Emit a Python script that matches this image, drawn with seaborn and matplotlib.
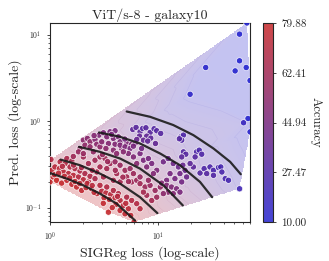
import numpy as np
import pandas as pd
import seaborn as sns
import matplotlib
matplotlib.use("Agg")
import matplotlib.pyplot as plt
import matplotlib.tri as mtri
from matplotlib.colors import LinearSegmentedColormap, Normalize
from matplotlib.cm import ScalarMappable

# ---- data ----
sigreg_loss = [
    # lower-left red cluster
    1.00, 1.07, 1.15, 1.28, 1.43, 1.59, 1.76, 1.96, 2.15, 1.04, 1.11, 1.22, 1.33, 1.48,
    1.64, 1.83, 2.03, 2.26, 1.24, 1.38, 1.53, 1.70, 1.89, 2.10, 2.34, 2.60, 1.43, 1.59, 1.02,
    # red, bottom
    2.70, 3.00, 3.28, 3.63, 3.15, 3.53, 3.98, 4.43, 4.06, 4.75, 5.28, 4.43, 3.46, 5.56,
    5.96, 4.92, 2.42, 2.89, 3.34, 3.84, 4.27, 5.10, 5.67, 6.31, 6.77,
    # magenta
    2.60, 2.89, 3.22, 3.58, 3.98, 4.43, 4.92, 5.48, 5.88, 5.10, 4.12, 3.34, 2.89, 2.70,
    3.11, 3.84, 4.43, 5.67, 6.31, 6.77, 2.26, 2.03,
    6.77, 7.53, 8.38, 9.32, 7.80, 8.68, 9.65, 10.4, 7.27, 8.08,
    # purple, upper left
    2.03, 2.21, 2.34, 2.60, 2.10, 1.89, 2.34, 2.70, 2.89, 1.83, 2.03, 2.51, 1.64,
    2.83, 3.11, 3.58, 3.98, 3.34, 3.84, 4.27, 3.00, 3.46, 3.98, 4.43, 3.28, 3.84, 4.58,
    5.10, 5.67, 6.09,
    # blue-purple
    5.80, 6.22, 6.77, 7.16, 7.67, 8.38, 9.12, 9.65, 10.5, 7.80, 8.50, 9.39, 6.69, 7.27,
    6.31, 7.97,
    4.43, 4.92, 5.48, 5.88, 5.28, 5.88, 6.77, 7.27, 8.08, 8.68, 9.65, 8.99, 7.80, 6.31,
    4.75, 4.12, 7.00,
    11.1, 12.3, 13.7, 15.3, 16.8, 17.6, 15.8, 14.2, 16.4, 18.2, 12.8, 11.9,
    10.7, 11.9, 13.2, 14.7, 12.3, 13.7, 15.8, 11.1,
    16.1, 17.0, 16.4, 15.6, 17.0, 17.9, 16.4, 22.5, 23.8, 25.1, 21.8,
    24.2, 26.4, 29.9, 32.2, 35.8, 37.6, 38.5, 32.2, 41.3, 44.3, 27.9, 21.0, 19.6,
    # blue outliers
    65.4, 56.0, 56.0, 27.3, 51.0, 64.5, 70.0, 19.6, 67.0, 61.0, 70.0, 56.0,
    # extra points in the dense part
    1.10, 1.20, 1.36, 1.52, 1.70, 1.88, 2.20, 2.45, 1.30, 1.65, 1.95, 2.45,
    3.10, 3.75, 4.20, 5.00, 2.55, 3.40, 4.00, 4.70, 5.30, 3.05, 3.70, 4.90, 2.55,
]
pred_loss = [
    0.198, 0.226, 0.207, 0.192, 0.207, 0.186, 0.173, 0.158, 0.170, 0.270, 0.295, 0.282,
    0.258, 0.247, 0.236, 0.226, 0.210, 0.198, 0.338, 0.323, 0.295, 0.282, 0.265, 0.247,
    0.230, 0.216, 0.369, 0.347, 0.360,
    0.145, 0.155, 0.148, 0.142, 0.130, 0.124, 0.130, 0.121, 0.109, 0.106, 0.097, 0.0927,
    0.0886, 0.0811, 0.068, 0.0848, 0.165, 0.181, 0.173, 0.158, 0.145, 0.132, 0.121, 0.111,
    0.097,
    0.353, 0.385, 0.369, 0.323, 0.338, 0.309, 0.270, 0.282, 0.247, 0.226, 0.247, 0.282,
    0.295, 0.258, 0.226, 0.207, 0.198, 0.198, 0.207, 0.226, 0.323, 0.385,
    0.189, 0.173, 0.181, 0.158, 0.139, 0.121, 0.132, 0.173, 0.151, 0.207,
    0.602, 0.630, 0.576, 0.613, 0.527, 0.482, 0.504, 0.540, 0.504, 0.441, 0.421, 0.441, 0.390,
    0.688, 0.732, 0.752, 0.773, 0.658, 0.630, 0.658, 0.576, 0.550, 0.540, 0.576, 0.482,
    0.461, 0.482, 0.550, 0.540, 0.550,
    0.800, 0.844, 0.752, 0.822, 0.837, 0.739, 0.815, 0.773, 0.720, 0.670, 0.635, 0.550,
    0.670, 0.602, 0.613, 0.587,
    0.527, 0.504, 0.482, 0.513, 0.421, 0.385, 0.421, 0.353, 0.369, 0.323, 0.270, 0.247,
    0.295, 0.323, 0.441, 0.421, 0.482,
    0.338, 0.369, 0.323, 0.295, 0.309, 0.270, 0.247, 0.216, 0.198, 0.226, 0.247, 0.207,
    0.192, 0.181, 0.173, 0.165, 0.151, 0.145, 0.151, 0.145,
    0.658, 0.688, 0.602, 0.624, 0.441, 0.414, 0.385, 0.441, 0.461, 0.414, 0.385,
    0.251, 0.282, 0.295, 0.270, 0.291, 0.295, 0.258, 0.236, 0.216, 0.207, 0.247, 0.295, 0.323,
    13.6, 10.1, 4.97, 4.16, 3.80, 4.16, 2.94, 2.04, 1.07, 0.956, 0.75, 0.165,
    0.240, 0.250, 0.230, 0.220, 0.200, 0.190, 0.190, 0.180, 0.300, 0.310, 0.290, 0.270,
    0.112, 0.100, 0.135, 0.112, 0.150, 0.340, 0.270, 0.225, 0.200, 0.410, 0.700, 0.620, 0.680,
]
accuracy = [
    78, 77, 79.88, 78, 77, 76, 77, 76, 75, 74, 72, 73, 73, 72, 73, 71, 72, 71, 70, 69, 69,
    68, 68, 67, 68, 66, 66, 65, 70,
    75, 72, 73, 72, 76, 75, 73, 72, 75, 73, 74, 76, 78, 75, 77, 76, 74, 71, 70, 69, 69, 68,
    70, 70, 71,
    62, 60, 61, 62, 58, 59, 61, 58, 60, 63, 64, 64, 65, 66, 66, 65, 64, 62, 60, 58, 64, 62,
    62, 60, 58, 59, 63, 64, 60, 56, 64, 57,
    53, 52, 54, 50, 55, 57, 55, 53, 54, 58, 58, 56, 61,
    48, 47, 46, 45, 49, 48, 46, 51, 50, 49, 47, 53, 52, 50, 48, 47, 46,
    34, 32, 33, 30, 31, 32, 29, 30, 31, 35, 34, 36, 36, 37, 38, 35,
    48, 47, 46, 45, 49, 48, 45, 46, 44, 45, 47, 49, 48, 51, 51, 53, 43,
    42, 40, 41, 40, 38, 39, 42, 44, 43, 40, 44, 46,
    50, 49, 48, 47, 51, 50, 46, 53,
    28, 27, 29, 30, 30, 31, 33, 27, 26, 28, 30,
    30, 28, 27, 26, 25, 24, 26, 29, 25, 24, 31, 33, 34,
    10.00, 11, 10.5, 12, 11, 10.2, 10.8, 14, 11, 18, 12, 22,
    75, 74, 75, 74, 75, 74, 73, 72, 70, 67, 66, 66,
    77, 76, 71, 73, 75, 60, 62, 63, 61, 58, 46, 44, 50,
]

# iso-accuracy curves (black)
curve1_x = [1.00, 1.43, 2.03, 2.89, 4.12, 6.09]
curve1_y = [0.251, 0.216, 0.181, 0.145, 0.111, 0.071]
curve2_x = [1.25, 1.89, 2.89, 4.43, 6.77, 9.79]
curve2_y = [0.359, 0.309, 0.247, 0.189, 0.132, 0.0863]
curve3_x = [1.85, 2.89, 4.43, 6.77, 11.1, 16.8]
curve3_y = [0.504, 0.441, 0.369, 0.282, 0.181, 0.106]
curve4_x = [2.83, 4.43, 6.77, 10.4, 15.8, 24.2, 31.3]
curve4_y = [0.739, 0.658, 0.55, 0.421, 0.309, 0.198, 0.132]
curve5_x = [5.10, 8.38, 13.7, 21.0, 32.2, 45.9, 57.5]
curve5_y = [1.29, 1.12, 0.90, 0.688, 0.482, 0.338, 0.243]

df = pd.DataFrame({"sigreg": sigreg_loss, "pred": pred_loss, "acc": accuracy})

sns.set_style("ticks")
plt.rcParams["font.family"] = ["cmr10", "DejaVu Serif"]
plt.rcParams["mathtext.fontset"] = "cm"
plt.rcParams["axes.formatter.use_mathtext"] = True

cmap = LinearSegmentedColormap.from_list("acc", ["#2424d0", "#c82828"])
norm = Normalize(vmin=df["acc"].min(), vmax=df["acc"].max())

fig = plt.figure(figsize=(3.29, 2.61), dpi=100)
ax = fig.add_axes([0.152, 0.149, 0.608, 0.763])
cax = fig.add_axes([0.799, 0.149, 0.031, 0.763])

# interpolated background in log space
lx = np.log10(df["sigreg"].values)
ly = np.log10(df["pred"].values)
tri = mtri.Triangulation(lx, ly)
interp = mtri.LinearTriInterpolator(tri, df["acc"].values)
gx, gy = np.meshgrid(np.linspace(lx.min(), lx.max(), 300), np.linspace(ly.min(), ly.max(), 300))
gz = interp(gx, gy)
ax.pcolormesh(10 ** gx, 10 ** gy, gz, cmap=cmap, norm=norm, alpha=0.27,
              shading="nearest", antialiased=False, rasterized=True, zorder=1)
ax.contour(10 ** gx, 10 ** gy, gz, levels=np.linspace(norm.vmin, norm.vmax, 12),
           cmap=cmap, norm=norm, alpha=0.08, linewidths=0.4, zorder=1)

sns.scatterplot(data=df, x="sigreg", y="pred", hue="acc", palette=cmap, hue_norm=norm,
                s=20, edgecolor="white", linewidth=0.5, alpha=0.9, legend=False, ax=ax, zorder=3)

for cx, cy in [(curve1_x, curve1_y), (curve2_x, curve2_y), (curve3_x, curve3_y),
               (curve4_x, curve4_y), (curve5_x, curve5_y)]:
    ax.plot(cx, cy, color="#1a1a1a", lw=1.6, alpha=0.9, zorder=4)

ax.set_xscale("log")
ax.set_yscale("log")
ax.set_xlim(df["sigreg"].min(), df["sigreg"].max())
ax.set_ylim(df["pred"].min(), df["pred"].max())
ax.tick_params(labelsize=5.5, length=2.5, width=0.6)
ax.tick_params(which="minor", length=1.5, width=0.5)
ax.set_xlabel("SIGReg loss (log-scale)", fontsize=10, labelpad=2)
ax.set_ylabel("Pred. loss (log-scale)", fontsize=10, labelpad=2)
ax.set_title("ViT/s-8 - galaxy10", fontsize=10, pad=3)

cb = fig.colorbar(ScalarMappable(norm=norm, cmap=cmap), cax=cax)
cb.solids.set_alpha(0.85)
ticks = np.linspace(norm.vmin, norm.vmax, 5)
cb.set_ticks(ticks)
cb.set_ticklabels([f"{t:.2f}" for t in ticks])
cb.ax.tick_params(labelsize=8, length=2.5, width=0.6)
cb.set_label("Accuracy", rotation=270, fontsize=9, labelpad=11)

plt.savefig("out.png", dpi=100)
